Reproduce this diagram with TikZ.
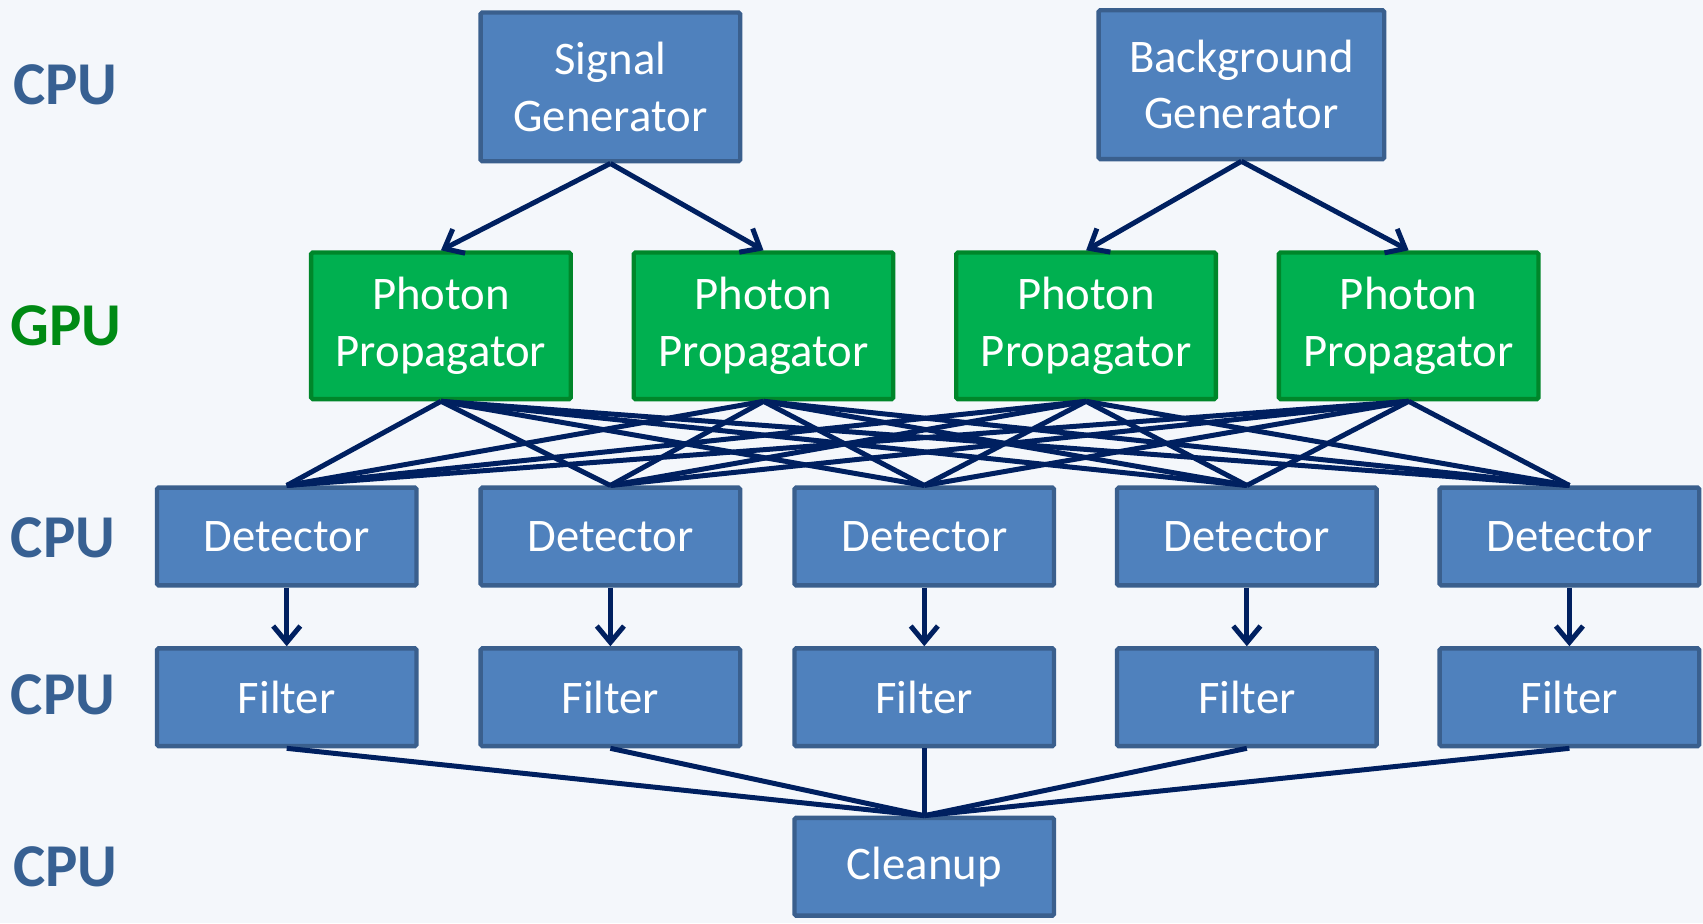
\documentclass[tikz,border=0pt]{standalone}
\usepackage{fontspec}
\setmainfont{Carlito}
\usetikzlibrary{arrows.meta}
\definecolor{cpublue}{HTML}{4F81BD}
\definecolor{cpuedge}{HTML}{3A5F8D}
\definecolor{gpugreen}{HTML}{00B050}
\definecolor{gpuedge}{HTML}{00862A}
\definecolor{wireblue}{HTML}{002060}
\definecolor{cpulabel}{HTML}{376092}
\definecolor{gpulabel}{HTML}{008A14}
\definecolor{paper}{HTML}{F4F7FB}
\begin{document}
\begin{tikzpicture}[x=1pt,y=-1pt,
  cpubox/.style={draw=cpuedge, fill=cpublue, line width=4pt, rounded corners=1.5pt,
    text=white, font=\fontsize{43}{52}\selectfont, align=center,
    minimum width=239pt, inner sep=0pt},
  gpubox/.style={cpubox, draw=gpuedge, fill=gpugreen, minimum height=135pt},
  genbox/.style={cpubox, minimum height=137pt},
  stagebox/.style={cpubox, minimum height=90pt},
  lane/.style={font=\fontsize{56}{62}\selectfont\bfseries, inner sep=0pt},
  link/.style={draw=wireblue, line width=4.6pt},
  feed/.style={link, -{Straight Barb[length=15pt,width=25pt]}}]

% canvas
\fill[paper] (0,0) rectangle (1568,850);
\useasboundingbox (0,0) rectangle (1568,850);

% row labels
\node[lane, text=cpulabel] (l1) at (60,78)  {CPU};
\node[lane, text=gpulabel] (l2) at (61,300) {GPU};
\node[lane, text=cpulabel] (l3) at (58,495) {CPU};
\node[lane, text=cpulabel] (l4) at (58,640) {CPU};
\node[lane, text=cpulabel] (l5) at (60,798) {CPU};

% generators
\node[genbox] (sig) at (562,80) {Signal\\Generator};
\node[genbox, minimum width=263pt] (bkg) at (1143,78) {Background\\Generator};

% photon propagators
\foreach \i/\x in {1/406,2/703,3/1000,4/1297}
  \node[gpubox] (pp\i) at (\x,300) {Photon\\Propagator};

% detectors and filters
\foreach \i/\x in {1/264,2/562,3/851,4/1148,5/1445} {
  \node[stagebox] (det\i) at (\x,494) {Detector};
  \node[stagebox] (flt\i) at (\x,642) {Filter};
}

% cleanup
\node[stagebox] (cln) at (851,798) {Cleanup};

% generator to propagators
\draw[feed] (sig.south) -- (pp1.north);
\draw[feed] (sig.south) -- (pp2.north);
\draw[feed] (bkg.south) -- (pp3.north);
\draw[feed] (bkg.south) -- (pp4.north);

% every propagator feeds every detector
\foreach \p in {1,...,4}
  \foreach \d in {1,...,5}
    \draw[link] (pp\p.south) -- (det\d.north);

% detector to filter
\foreach \i in {1,...,5}
  \draw[feed] (det\i.south) -- (flt\i.north);

% filters to cleanup
\foreach \i in {1,...,5}
  \draw[link] (flt\i.south) -- (cln.north);

\end{tikzpicture}
\end{document}
